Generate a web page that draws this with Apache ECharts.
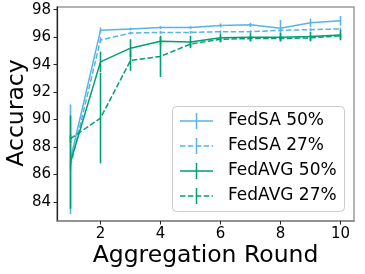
<!DOCTYPE html>
<html><head><meta charset="utf-8">
<script src="https://cdn.jsdelivr.net/npm/echarts@6/dist/echarts.min.js"></script>
<style>html,body{margin:0;padding:0;background:#fff}#c{width:365px;height:274px}</style>
</head><body><div id="c"></div>
<script>
const rounds = [1, 2, 3, 4, 5, 6, 7, 8, 9, 10];
const xTicks = [2, 4, 6, 8, 10];
const yTicks = [84, 86, 88, 90, 92, 94, 96, 98];
const seriesNames = ['FedSA 50%', 'FedSA 27%', 'FedAVG 50%', 'FedAVG 27%'];
const fedsa50 = [87.1, 96.5, 96.6, 96.7, 96.7, 96.85, 96.9, 96.65, 97.05, 97.2];
const fedsa50Err = [4.0, 0.2, 0.1, 0.1, 0.1, 0.15, 0.15, 0.6, 0.3, 0.35];
const fedsa27 = [86.6, 95.8, 96.3, 96.35, 96.35, 96.4, 96.4, 96.5, 96.55, 96.6];
const fedsa27Err = [0.3, 0.2, 0.1, 0.1, 0.1, 0.1, 0.1, 0.1, 0.1, 0.1];
const fedavg50 = [86.9, 94.2, 95.2, 95.7, 95.65, 95.95, 96.0, 96.0, 96.05, 96.15];
const fedavg50Err = [3.4, 0.75, 0.65, 0.3, 0.45, 0.33, 0.3, 0.3, 0.35, 0.38];
const fedavg27 = [88.6, 90.1, 94.3, 94.6, 95.5, 95.85, 95.9, 95.9, 95.95, 96.1];
const fedavg27Err = [0.3, 3.3, 0.75, 1.5, 0.2, 0.2, 0.2, 0.2, 0.2, 0.2];

const BLUE = '#56B4E9', GREEN = '#009E73';
const FONT = 'DejaVu Sans';
const DASH = [5.5, 2.4];

const chart = echarts.init(document.getElementById('c'), null, {renderer: 'canvas'});

function lineSeries(name, ys, color, dashed, z) {
  return {
    type: 'line', name: name, data: rounds.map((r, i) => [r, ys[i]]),
    symbol: 'none', showSymbol: false, animation: false, z: z,
    lineStyle: {color: color, width: 1.5, type: dashed ? DASH : 'solid'},
    itemStyle: {color: color}
  };
}
function errSeries(ys, errs, color, z) {
  return {
    type: 'custom', animation: false, z: z, clip: true,
    data: rounds.map((r, i) => [r, ys[i] - errs[i], ys[i] + errs[i]]),
    encode: {x: 0, y: [1, 2]},
    renderItem: function (params, api) {
      const a = api.coord([api.value(0), api.value(1)]);
      const b = api.coord([api.value(0), api.value(2)]);
      return {type: 'line', shape: {x1: a[0], y1: a[1], x2: b[0], y2: b[1]},
        style: {stroke: color, lineWidth: 1.6}};
    }
  };
}

const legendEntries = [
  {name: seriesNames[0], color: BLUE, dashed: false},
  {name: seriesNames[1], color: BLUE, dashed: true},
  {name: seriesNames[2], color: GREEN, dashed: false},
  {name: seriesNames[3], color: GREEN, dashed: true}
];
const legendGraphics = [{
  type: 'rect', shape: {x: 172.5, y: 106.5, width: 172, height: 105, r: 4},
  style: {fill: 'rgba(255,255,255,0.8)', stroke: '#cccccc', lineWidth: 1}, z: 100
}];
legendEntries.forEach((e, i) => {
  const y = 121 + i * 25;
  legendGraphics.push({type: 'line', shape: {x1: 180, y1: y, x2: 213, y2: y},
    style: {stroke: e.color, lineWidth: 1.5, lineDash: e.dashed ? DASH : null}, z: 101});
  legendGraphics.push({type: 'line', shape: {x1: 196.5, y1: y - 8, x2: 196.5, y2: y + 8},
    style: {stroke: e.color, lineWidth: 1.5}, z: 101});
  legendGraphics.push({type: 'text', x: 228, y: y,
    style: {text: e.name, fill: '#000', font: '17px "' + FONT + '"', textAlign: 'left', textVerticalAlign: 'middle'}, z: 101});
});

const option = {
  animation: false,
  backgroundColor: '#fff',
  grid: {left: 57, right: 11, top: 7, bottom: 53, show: true, borderColor: '#999', borderWidth: 1.5, backgroundColor: 'transparent'},
  xAxis: {
    type: 'value', min: 0.55, max: 10.45,
    axisLine: {show: true, onZero: false, lineStyle: {color: '#888', width: 1.5}},
    axisTick: {show: true, customValues: xTicks, length: 3.5, lineStyle: {color: '#222'}},
    axisLabel: {customValues: xTicks, margin: 6, color: '#000', fontFamily: FONT, fontSize: 15},
    splitLine: {show: false}
  },
  yAxis: {
    type: 'value', min: 82.6, max: 98.2,
    axisLine: {show: true, onZero: false, lineStyle: {color: '#222', width: 1.2}},
    axisTick: {show: true, customValues: yTicks, length: 3.5, lineStyle: {color: '#222'}},
    axisLabel: {customValues: yTicks, margin: 6, color: '#000', fontFamily: FONT, fontSize: 15},
    splitLine: {show: false}
  },
  graphic: [
    {type: 'text', x: 205.5, y: 256, style: {text: 'Aggregation Round', fill: '#000', font: '23.5px "' + FONT + '"', textAlign: 'center', textVerticalAlign: 'middle'}},
    {type: 'text', x: 17, y: 113, rotation: Math.PI / 2, style: {text: 'Accuracy', fill: '#000', font: '23.5px "' + FONT + '"', textAlign: 'center', textVerticalAlign: 'middle'}}
  ].concat(legendGraphics),
  series: [
    lineSeries(seriesNames[0], fedsa50, BLUE, false, 2), errSeries(fedsa50, fedsa50Err, BLUE, 2),
    lineSeries(seriesNames[1], fedsa27, BLUE, true, 3), errSeries(fedsa27, fedsa27Err, BLUE, 3),
    lineSeries(seriesNames[2], fedavg50, GREEN, false, 4), errSeries(fedavg50, fedavg50Err, GREEN, 4),
    lineSeries(seriesNames[3], fedavg27, GREEN, true, 5), errSeries(fedavg27, fedavg27Err, GREEN, 5)
  ]
};
chart.setOption(option);
</script>
</body></html>
